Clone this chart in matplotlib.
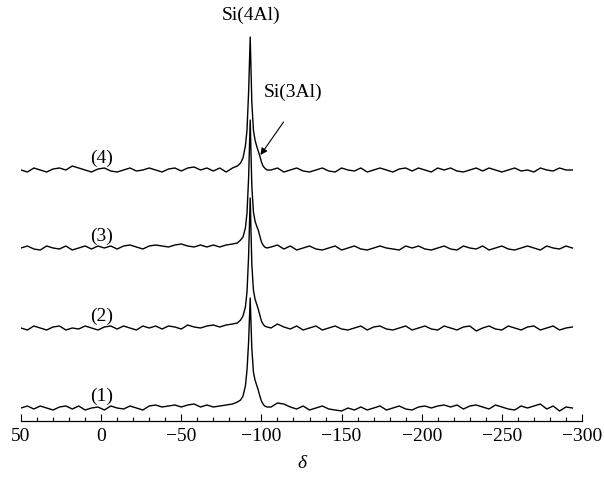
import numpy as np
import matplotlib
matplotlib.use("Agg")
import matplotlib.pyplot as plt

plt.rcParams["font.family"] = ["Liberation Serif", "DejaVu Serif"]

# chemical shift grid (ppm): baseline left, peak region, baseline right
shift_left = np.arange(50, -84, -4)
shift_peak = [-85, -87, -88.5, -90, -91, -92, -93, -94, -95, -96, -97, -98,
              -99, -100, -101, -102, -103.5]
shift_right = np.arange(-106, -295, -4)
shift = np.concatenate([shift_left, shift_peak, shift_right])

# intensities (relative to each trace's own baseline)
trace1 = [0, 2, -1, 2, 0, -2, 1, 2, -1, 2, -2, 0,
          1, -2, 2, 0, -1, 2, 0, -2, 2, 3, 1, 2,
          3, 1, 3, 4, 1, 3, 1, 2, 3, 4,
          6, 8, 12, 22, 38, 66, 110, 60, 36, 28, 23, 18, 12, 7, 4, 2, 1,
          1, 5, 4, 1, -1, 2, -2, 0, 2, -1, -2, -3,
          0, -2, 1, -2, 0, 2, -2, 0, 2, -1, -2, 1,
          2, 0, 2, 3, 1, 3, -1, 2, 3, 1, -1, 3,
          1, -1, -2, 2, 0, 2, 4, -1, 2, -3, 1, 0]
trace2 = [0, -2, 2, 0, -2, 1, 2, -2, 0, -1, 2, 0,
          -2, 1, 2, -1, 2, 0, -2, 2, 0, 2, -1, 2,
          1, -1, 3, 1, 0, 2, 3, 1, 3, 4,
          5, 8, 12, 21, 36, 72, 130, 64, 38, 29, 24, 19, 13, 7, 4, 2, 1,
          0, 4, 1, -1, 2, -2, 0, 2, -2, 0, 2, -1,
          -2, 0, 2, -2, 1, 2, -1, -2, 0, 2, -2, 0,
          2, -1, -2, 2, 0, -2, 1, 2, -3, 0, 2, -1,
          -2, 2, 0, -2, 1, 2, -2, 0, 2, -2, 0, 1]
trace3 = [0, 2, -1, -2, 2, 0, -1, 2, -2, 0, 2, -1,
          2, 0, 2, -1, 2, 3, 1, -1, 2, 3, 2, 1,
          3, 4, 2, 1, 3, 1, 3, 1, 3, 4,
          5, 8, 11, 20, 35, 70, 128, 62, 36, 27, 22, 18, 12, 6, 3, 1, 0,
          1, 3, -1, 2, -2, 0, 2, -1, -2, 0, 2, -2,
          0, 2, -1, -2, 0, 2, 0, -1, -2, 2, 0, 2,
          -1, -2, 0, 2, -1, -2, 2, 0, -1, 2, -2, 0,
          2, -1, -2, 0, 2, 0, -2, 2, 0, -1, 2, 0]
trace4 = [0, -2, 2, 0, -2, 1, 2, 0, 4, 2, 0, -2,
          1, 2, -1, -2, 0, 2, -1, 0, 2, 0, -2, 1,
          2, -1, 2, 3, 0, 2, -1, 2, -2, 2,
          4, 7, 12, 24, 40, 78, 133, 68, 40, 30, 24, 19, 14, 8, 4, 2, 0,
          0, 2, -2, 0, 2, -1, -2, 0, 2, -1, -2, 2,
          0, -1, 2, -2, 0, 2, 0, -2, 1, 2, -1, 2,
          0, -2, 2, 0, 2, -1, -2, 0, 2, -1, 2, 0,
          -2, 0, 2, -1, 0, -2, 2, 0, -1, 2, 0, 0]
traces = [trace1, trace2, trace3, trace4]
offsets = [13, 93, 173, 251]
labels = ["(1)", "(2)", "(3)", "(4)"]

fig = plt.figure(figsize=(6.04, 4.78), dpi=100)
ax = fig.add_axes([21 / 604, 1 - 421 / 478, 561 / 604, 421 / 478])

for tr, off, lab in zip(traces, offsets, labels):
    ax.plot(shift, np.array(tr) + off, color="black", lw=1.0)
    ax.text(0, off + 12, lab, ha="center", va="center", fontsize=14)

ax.text(-93.8, 406, "Si(4Al)", ha="center", va="center", fontsize=14)
ax.text(-120, 329, "Si(3Al)", ha="center", va="center", fontsize=14)
ax.annotate("", xy=(-99.4, 266), xytext=(-113.8, 299),
            arrowprops=dict(arrowstyle="-|>", color="black", lw=0.8,
                            mutation_scale=10, shrinkA=0, shrinkB=0))

ax.set_xlim(50, -300)
ax.set_ylim(0, 421)
for s in ["left", "right", "top"]:
    ax.spines[s].set_visible(False)
ax.spines["bottom"].set_linewidth(0.9)
ax.set_yticks([])
ax.set_xticks(np.arange(50, -301, -50))
ax.set_xticks(np.arange(50, -301, -10), minor=True)
ax.tick_params(axis="x", which="major", direction="in", length=5, width=0.8,
               labelsize=14, pad=5)
ax.tick_params(axis="x", which="minor", direction="in", length=3, width=0.8)
ax.set_xlabel("δ", fontsize=14, fontstyle="italic", labelpad=7)

fig.savefig("out.png", dpi=100)
